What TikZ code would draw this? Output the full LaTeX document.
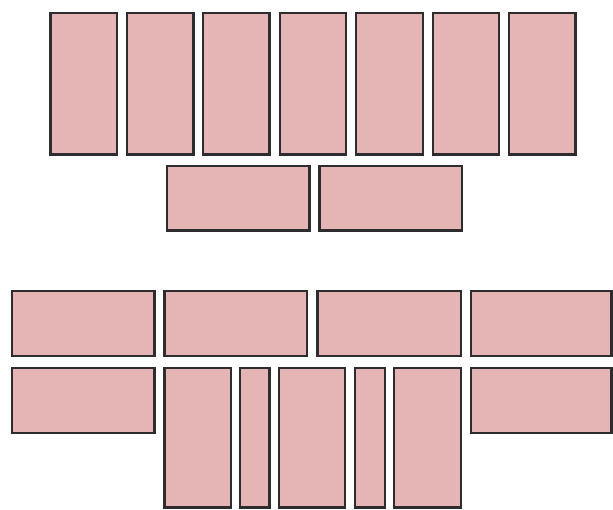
\documentclass[tikz,border=0pt]{standalone}
\definecolor{tilefill}{RGB}{229,181,182}
\definecolor{tileedge}{RGB}{45,45,48}
\tikzset{tile/.style={fill=tilefill,draw=tileedge,line width=2.4pt}}
\newcommand\tilebox[4]{\draw[tile] (#1+1.2,#2+1.2) rectangle (#3-1.2,#4-1.2);}
\begin{document}
\begin{tikzpicture}[x=1pt,y=-1pt]
\useasboundingbox (0,0) rectangle (613,509);
% top group
\tilebox{49.3}{12}{118}{155.7}
\tilebox{125.7}{12}{194.7}{155.7}
\tilebox{202}{12}{270.7}{155.7}
\tilebox{278.7}{12}{347}{155.7}
\tilebox{355}{12}{424}{155.7}
\tilebox{431.7}{12}{500.3}{155.7}
\tilebox{508}{12}{576.7}{155.7}
\tilebox{165.7}{164.7}{310.7}{231.7}
\tilebox{318.3}{164.7}{463.3}{231.7}
% bottom group
\tilebox{10.7}{290}{155.7}{357.3}
\tilebox{163.3}{290}{308.3}{357.3}
\tilebox{316.3}{290}{462}{357.3}
\tilebox{469.7}{290}{612.6}{357.3}
\tilebox{10.7}{366.7}{155.7}{434}
\tilebox{469.7}{366.7}{612.6}{434}
\tilebox{163.3}{366.7}{232}{508.6}
\tilebox{238.7}{366.7}{270.7}{508.6}
\tilebox{277.7}{366.7}{346}{508.6}
\tilebox{354}{366.7}{386}{508.6}
\tilebox{392.7}{366.7}{462}{508.6}
\end{tikzpicture}
\end{document}
